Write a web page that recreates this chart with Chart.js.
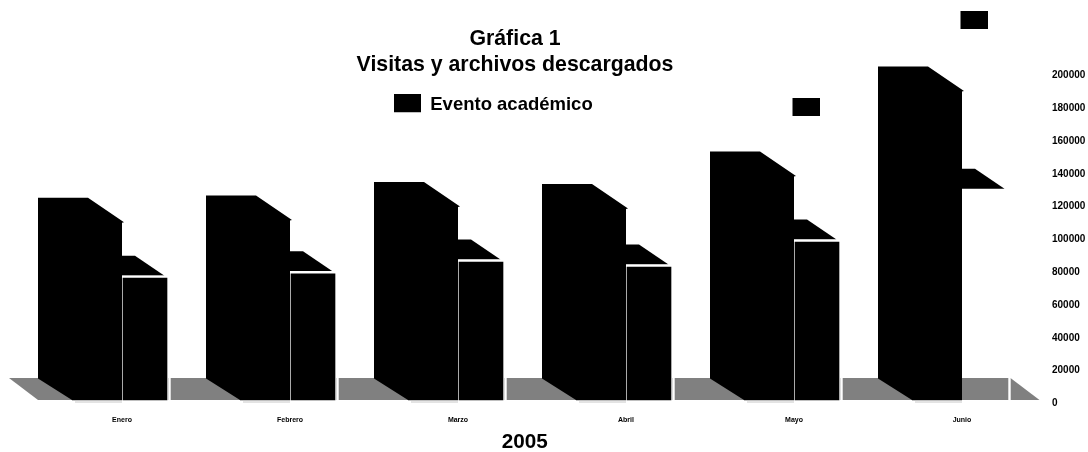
<!DOCTYPE html>
<html>
<head>
<meta charset="utf-8">
<title>Visitas y archivos descargados</title>
<script src="https://cdn.jsdelivr.net/npm/chart.js@4/dist/chart.umd.min.js"></script>
<style>
    body { margin: 0; background: #fff; }
    canvas { display: block; }
</style>
</head>
<body>
<canvas id="chart-area" width="1088" height="452"></canvas>
<script>
// chart data
var meses = ['Enero', 'Febrero', 'Marzo', 'Abril', 'Mayo', 'Junio'];
var visitas = [110200, 111600, 119700, 118500, 138400, 190100];
var descargas = [77300, 80000, 87100, 84100, 99300, 130300];
var eventos = [null, null, null, null, 179900, 233300];
var yTicks = [0, 20000, 40000, 60000, 80000, 100000, 120000, 140000, 160000, 180000, 200000];
var titulo = ['Gráfica 1', 'Visitas y archivos descargados'];
var nombres = ['Visitas', 'Archivos descargados', 'Evento académico'];
var anio = '2005';

// oblique depth of the bars and the floor
var depthX = -34;
var depthY = -24;
var topDepthX = -29.5;
var topDepthY = -20;
var floorTop = -24.5;
var floorBottom = -2.5;
var floorGray = '#808080';

function poly(ctx, pts, color) {
    ctx.fillStyle = color;
    ctx.beginPath();
    ctx.moveTo(pts[0][0], pts[0][1]);
    for (var i = 1; i < pts.length; i++) {
        ctx.lineTo(pts[i][0], pts[i][1]);
    }
    ctx.closePath();
    ctx.fill();
}

// black box on a transparent canvas, used as point style
function marker(w, h, boxX) {
    var c = document.createElement('canvas');
    c.width = w;
    c.height = h;
    var g = c.getContext('2d');
    g.fillStyle = '#000';
    g.fillRect(boxX, 0, 27, 18);
    return c;
}

// title and legend sit on top of the plot, so they take no room in the layout
var overlayBoxes = {
    id: 'overlayBoxes',
    beforeLayout: function (chart) {
        [chart.titleBlock, chart.legend].forEach(function (box) {
            if (!box._noHeight) {
                var update = box.update;
                box.update = function (w, h, m) {
                    update.call(this, w, h, m);
                    this.height = 0;
                };
                box._noHeight = true;
            }
        });
        // the year is not centred under the plot in the original
        var sx = chart.scales.x;
        if (!sx._titleMoved) {
            var drawTitle = sx.drawTitle;
            sx.drawTitle = function () {
                this.ctx.save();
                this.ctx.translate(-17.3, 3.5);
                drawTitle.call(this);
                this.ctx.restore();
            };
            sx._titleMoved = true;
        }
    },
    afterLayout: function (chart) {
        var t = chart.titleBlock;
        t.left = 0;
        t.right = 1030;
        t.top = 26;
        t.bottom = 78;
        t.width = 1030;
        t.height = 52;
        var l = chart.legend;
        l.left = 390;
        l.right = 700;
        l.top = 92;
        l.bottom = 121;
        l.width = 310;
        l.height = 29;
    }
};

// floor and 3D faces, built from the bars that chart.js laid out
var bars3d = {
    id: 'bars3d',
    beforeDatasetsDraw: function (chart) {
        var ctx = chart.ctx;
        var base = chart.scales.y.getPixelForValue(0);
        var cx = chart.scales.x;
        var first = cx.getPixelForValue(0);
        var last = cx.getPixelForValue(meses.length - 1);
        var yBack = base + floorTop;
        var yFront = base + floorBottom;

        poly(ctx, [[first - 113, yBack], [last + 48.5, yBack], [last + 77.5, yFront], [first - 84, yFront]], floorGray);

        ctx.save();
        ctx.fillStyle = '#fff';
        meses.forEach(function (m, i) {
            ctx.fillRect(cx.getPixelForValue(i) + 46.3, yBack, 2.4, yFront - yBack);
        });
        ctx.restore();

        chart.getDatasetMeta(1).data.forEach(function (b) {
            var x0 = b.x - b.width / 2;
            var x1 = b.x + b.width / 2 - 3.5;
            poly(ctx, [[x0, b.y], [x1, b.y], [x1 + topDepthX, b.y + topDepthY], [x0, b.y + topDepthY]], '#000');
        });
        chart.getDatasetMeta(0).data.forEach(function (b) {
            var x0 = b.x - b.width / 2;
            var x1 = b.x + b.width / 2;
            poly(ctx, [
                [x0, yFront],
                [x0 + depthX, base + depthY],
                [x0 + depthX, b.y + depthY],
                [x0 + depthX - 1.5, b.y + depthY],
                [x1 + depthX, b.y + depthY],
                [x1 + 2, b.y + 0.5],
                [x1, b.y + 1]
            ], '#000');
        });
    },
    afterDatasetsDraw: function (chart) {
        var ctx = chart.ctx;
        ctx.save();
        ctx.strokeStyle = '#c8c8c8';
        ctx.lineWidth = 1;
        chart.getDatasetMeta(0).data.forEach(function (b) {
            ctx.beginPath();
            ctx.moveTo(b.x - b.width / 2 + 3, b.base - 0.5);
            ctx.lineTo(b.x + b.width / 2, b.base - 0.5);
            ctx.stroke();
        });
        ctx.restore();
    }
};

var config = {
    data: {
        labels: meses,
        datasets: [{
            type: 'bar',
            label: nombres[0],
            data: visitas,
            backgroundColor: '#000',
            borderColor: '#fff',
            borderWidth: { bottom: 2.5 },
            borderSkipped: false,
            barThickness: 50,
            order: 2
        }, {
            type: 'bar',
            label: nombres[1],
            data: descargas,
            // the last front face is missing in the original
            backgroundColor: ['#000', '#000', '#000', '#000', '#000', 'rgba(0,0,0,0)'],
            borderColor: ['#fff', '#fff', '#fff', '#fff', '#fff', 'rgba(0,0,0,0)'],
            borderWidth: { top: 2.5, left: 1, right: 1, bottom: 2.5 },
            borderSkipped: false,
            barThickness: 46,
            order: 3
        }, {
            type: 'line',
            label: nombres[2],
            data: eventos,
            showLine: false,
            clip: false,
            // marks sit a bit to the right of their month
            pointStyle: marker(51, 18, 24),
            pointRadius: 10,
            backgroundColor: '#000',
            borderColor: '#000',
            borderWidth: 0,
            order: 1
        }]
    },
    options: {
        responsive: false,
        animation: false,
        events: [],
        layout: { padding: { left: 38, top: 0, right: 0, bottom: 0 } },
        plugins: {
            tooltip: { enabled: false },
            title: {
                display: true,
                text: titulo,
                color: '#000',
                font: { family: '"Liberation Sans"', size: 21.3, weight: 'bold', lineHeight: 1.22 },
                padding: 0
            },
            legend: {
                display: true,
                align: 'start',
                labels: {
                    color: '#000',
                    font: { family: '"Liberation Sans"', size: 18.5, weight: 'bold' },
                    usePointStyle: true,
                    pointStyle: marker(27, 22, 0),
                    pointStyleWidth: 27,
                    padding: 4,
                    filter: function (item) {
                        return item.datasetIndex === 2;
                    }
                }
            }
        },
        scales: {
            x: {
                grid: { display: false, drawTicks: false },
                border: { display: false },
                ticks: {
                    color: '#000',
                    font: { family: '"Liberation Sans"', size: 7, weight: 'bold' },
                    padding: 13,
                    autoSkip: false,
                    maxRotation: 0
                },
                title: {
                    display: true,
                    text: anio,
                    color: '#000',
                    font: { family: '"Liberation Sans"', size: 20.7, weight: 'bold' },
                    padding: { top: 0, bottom: 1 }
                },
                afterFit: function (scale) {
                    scale.height = 49.5;
                }
            },
            y: {
                position: 'right',
                min: 0,
                max: 238000,
                grid: { display: false, drawTicks: false },
                border: { display: false },
                ticks: {
                    color: '#000',
                    font: { family: '"Liberation Sans"', size: 10, weight: 'bold' },
                    padding: 6,
                    labelOffset: 1,
                    callback: function (v) {
                        return String(v);
                    }
                },
                afterBuildTicks: function (scale) {
                    scale.ticks = yTicks.map(function (v) {
                        return { value: v };
                    });
                },
                afterFit: function (scale) {
                    scale.width = 42;
                }
            }
        }
    },
    plugins: [overlayBoxes, bars3d]
};

window.onload = function () {
    var ctx = document.getElementById('chart-area').getContext('2d');
    window.myChart = new Chart(ctx, config);
};
</script>
</body>
</html>
